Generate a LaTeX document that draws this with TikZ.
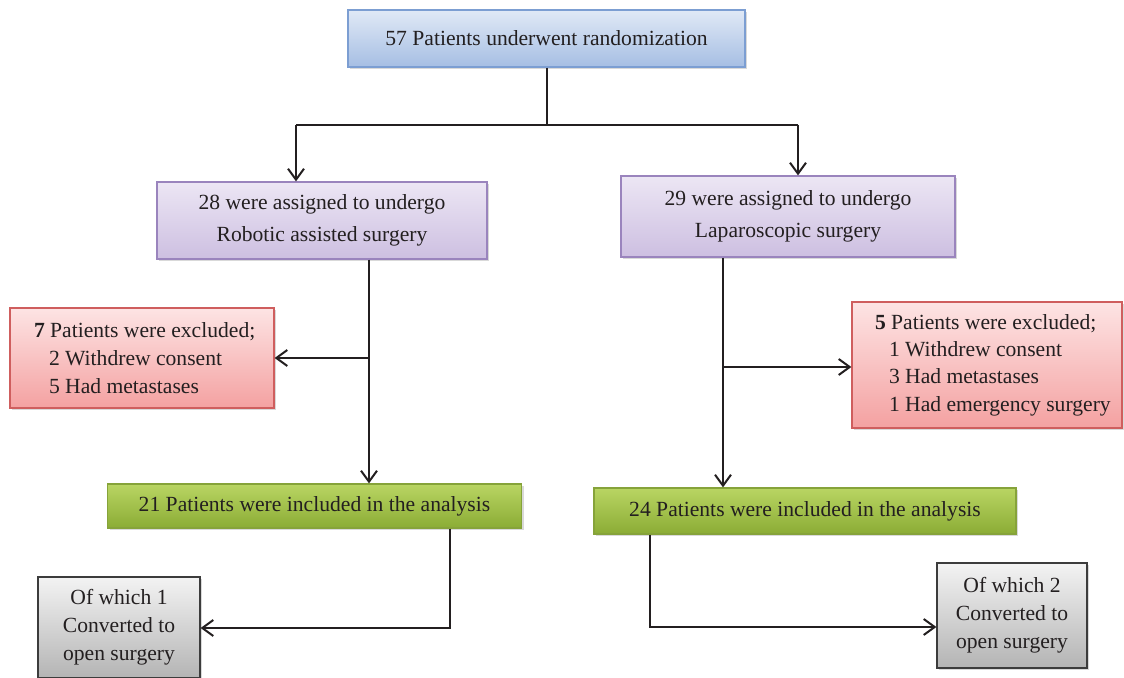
\documentclass[tikz,border=0pt]{standalone}
\usepackage{fontspec}
\setmainfont{Liberation Serif}
\usepackage{xcolor}
\usetikzlibrary{arrows.meta,shadows}

\definecolor{ink}{HTML}{231F20}
\definecolor{blueT}{HTML}{E0E9F6}
\definecolor{blueB}{HTML}{A6BEE3}
\definecolor{blueD}{HTML}{7C9ED2}
\definecolor{lilacT}{HTML}{ECE6F4}
\definecolor{lilacB}{HTML}{CDBFE1}
\definecolor{lilacD}{HTML}{9A84BD}
\definecolor{roseT}{HTML}{FDE4E4}
\definecolor{roseB}{HTML}{F4A1A1}
\definecolor{roseD}{HTML}{CF5E5E}
\definecolor{limeT}{HTML}{B9D563}
\definecolor{limeB}{HTML}{8BAC35}
\definecolor{limeD}{HTML}{86A33A}
\definecolor{greyT}{HTML}{F3F3F3}
\definecolor{greyB}{HTML}{B4B4B4}
\definecolor{greyD}{HTML}{3C3C3C}

\begin{document}
\begin{tikzpicture}[x=0.5pt, y=-0.5pt,
    font=\fontsize{10.8}{14}\selectfont,
    box/.style={draw, line width=0.6pt, inner sep=0pt, align=center, text=ink,
      drop shadow={shadow xshift=1pt, shadow yshift=-1.2pt, opacity=0.3}},
    randbox/.style={box, draw=blueD, top color=blueT, bottom color=blueB},
    armbox/.style={box, draw=lilacD, top color=lilacT, bottom color=lilacB,
      font=\fontsize{10.8}{16}\selectfont},
    exclbox/.style={box, draw=roseD, top color=roseT, bottom color=roseB, align=flush left},
    inclbox/.style={box, draw=limeD, top color=limeT, bottom color=limeB},
    convbox/.style={box, draw=greyD, top color=greyT, bottom color=greyB},
    link/.style={draw=ink, line width=1pt},
    arr/.style={link, -{Straight Barb[length=5.5pt, width=8pt, line width=1pt]}}
  ]
  \useasboundingbox (0,0) rectangle (1124,678);

  \node[randbox, minimum width=198.5pt, minimum height=28.5pt] (rand) at (546.5,38.5)
    {57 Patients underwent randomization};

  \node[armbox, minimum width=165pt, minimum height=38.5pt] (robot) at (322,220.5)
    {28 were assigned to undergo\\ Robotic assisted surgery};
  \node[armbox, minimum width=167pt, minimum height=40.5pt] (lap) at (788,216.5)
    {29 were assigned to undergo\\ Laparoscopic surgery};

  \node[exclbox, minimum width=132pt, minimum height=50pt, text width=130pt] (exclL) at (142,358)
    {\hspace*{11pt}\textbf{7} Patients were excluded;\\
     \hspace*{18.5pt}2 Withdrew consent\\
     \hspace*{18.5pt}5 Had metastases};
  \node[exclbox, minimum width=135pt, minimum height=63pt, text width=133pt,
    font=\fontsize{10.8}{13.7}\selectfont] (exclR) at (987,365)
    {\hspace*{10.5pt}\textbf{5} Patients were excluded;\\
     \hspace*{17.5pt}1 Withdrew consent\\
     \hspace*{17.5pt}3 Had metastases\\
     \hspace*{17.5pt}1 Had emergency surgery};

  \node[inclbox, minimum width=207pt, minimum height=22pt] (inclL) at (314.5,506)
    {21 Patients were included in the analysis};
  \node[inclbox, minimum width=211pt, minimum height=23pt] (inclR) at (805,511)
    {24 Patients were included in the analysis};

  \node[convbox, minimum width=81pt, minimum height=50.5pt] (convL) at (119,627.5)
    {Of which 1\\ Converted to\\ open surgery};
  \node[convbox, minimum width=75pt, minimum height=52.5pt] (convR) at (1012,615.5)
    {Of which 2\\ Converted to\\ open surgery};

  \coordinate (forkL) at (296,125);
  \coordinate (forkR) at (798,125);
  \coordinate (brL) at (369,358);
  \coordinate (brR) at (723,367);
  \coordinate (dropL) at (450,628);
  \coordinate (dropR) at (650,627);

  \draw[link] (rand.south) -- (rand.south |- forkL);
  \draw[link] (forkL) -- (forkR);
  \draw[arr] (forkL) -- (forkL |- robot.north);
  \draw[arr] (forkR) -- (forkR |- lap.north);

  \draw[arr] (brL |- robot.south) -- (brL |- inclL.north);
  \draw[arr] (brL) -- (exclL.east |- brL);
  \draw[arr] (brR |- lap.south) -- (brR |- inclR.north);
  \draw[arr] (brR) -- (exclR.west |- brR);

  \draw[arr] (dropL |- inclL.south) -- (dropL) -- (convL.east |- dropL);
  \draw[arr] (dropR |- inclR.south) -- (dropR) -- (convR.west |- dropR);
\end{tikzpicture}
\end{document}
